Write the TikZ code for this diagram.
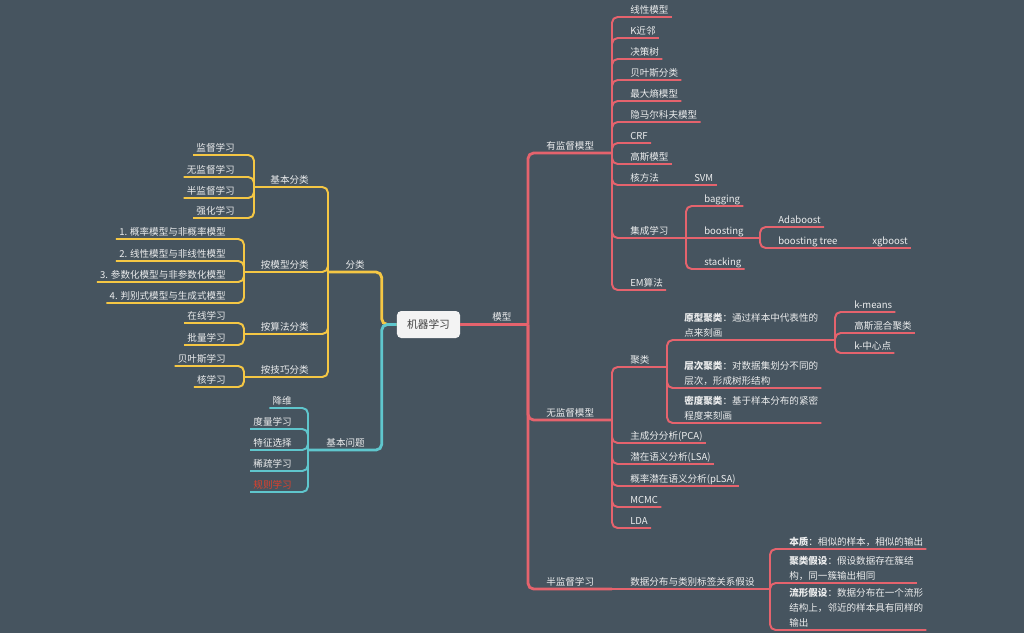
\documentclass[tikz,border=0pt]{standalone}
\usepackage{fontspec}
\setmainfont{Noto Sans CJK SC}
\usepackage{tikz}
\usetikzlibrary{calc}

\definecolor{bg}{RGB}{70,84,95}
\definecolor{branchred}{RGB}{229,99,109}
\definecolor{branchyellow}{RGB}{245,199,68}
\definecolor{branchteal}{RGB}{95,198,205}
\definecolor{textgray}{RGB}{236,237,238}
\definecolor{rootfill}{RGB}{243,243,243}
\definecolor{warnred}{RGB}{226,64,43}

\tikzset{
  topic/.style={font=\fontsize{6.8}{10.6}\selectfont, text=textgray, inner xsep=0.075cm, inner ysep=1.6pt, align=left},
  rtopic/.style={topic, anchor=south west},
  ltopic/.style={topic, anchor=south east},
  leaf/.style={text depth=1pt},
  root/.style={fill=rootfill, rounded corners=3pt, text=black!75, font=\fontsize{7.6}{9}\selectfont, minimum width=1.575cm, minimum height=0.675cm},
  mainbranch/.style={line width=2pt, rounded corners=4pt},
  branch/.style={line width=1.4pt, rounded corners=4pt},
}

\begin{document}
\begin{tikzpicture}[x=0.025cm, y=-0.025cm]
\fill[bg] (0,0) rectangle (1024,633);
\useasboundingbox (0,0) rectangle (1024,633);

\node[root] (root) at (428.5,324.5) {机器学习};

% model side
\coordinate (model-j) at (528,324.5);
\node[rtopic, leaf] (model) at (489,324.5) {模型};
\draw[branchred, mainbranch] (root.east) -- (model-j);

\foreach \n/\y/\txt in {sup/153/有监督模型, unsup/420/无监督模型, semi/589/半监督学习} {
  \coordinate (\n-j) at (612,\y);
  \node[rtopic, leaf] (\n) at (543,\y) {\txt};
  \draw[branchred, mainbranch] (model-j) |- (\n-j);
}

% supervised
\foreach \y/\txt [count=\i] in {17/线性模型, 38/K近邻, 59/决策树, 80/贝叶斯分类, 101/最大熵模型, 122/隐马尔科夫模型, 143/CRF, 164/高斯模型, 290/EM算法} {
  \node[rtopic, leaf] (sup\i) at (627,\y) {\txt};
  \draw[branchred, branch] (sup-j) |- (sup\i.south east);
}
\coordinate (kernel-j) at (682,185);
\node[rtopic, leaf] (kernel) at (627,185) {核方法};
\node[rtopic, leaf] (svm) at (691,185) {SVM};
\draw[branchred, branch] (sup-j) |- (kernel-j);
\draw[branchred, branch] (kernel-j) -- (svm.south east);

\coordinate (ens-j) at (686,238);
\node[rtopic, leaf] (ens) at (627,238) {集成学习};
\draw[branchred, branch] (sup-j) |- (ens-j);
\node[rtopic, leaf] (bag) at (701,206) {bagging};
\node[rtopic, leaf] (stack) at (701,269) {stacking};
\coordinate (boost-j) at (760,238);
\node[rtopic, leaf] (boost) at (701,238) {boosting};
\draw[branchred, branch] (ens-j) |- (bag.south east);
\draw[branchred, branch] (ens-j) |- (stack.south east);
\draw[branchred, branch] (ens-j) -- (boost-j);
\node[rtopic, leaf] (ada) at (775,227) {Adaboost};
\coordinate (btree-j) at (840,248);
\node[rtopic, leaf] (btree) at (775,248) {boosting tree};
\node[rtopic, leaf] (xgb) at (869,248) {xgboost};
\draw[branchred, branch] (boost-j) |- (ada.south east);
\draw[branchred, branch] (boost-j) |- (btree-j);
\draw[branchred, line width=1pt] (btree-j) -- (xgb.south east);

% unsupervised
\coordinate (clu-j) at (667,367);
\node[rtopic, leaf] (clu) at (627,367) {聚类};
\draw[branchred, branch] (unsup-j) |- (clu-j);
\coordinate (proto-j) at (835,340);
\node[rtopic] (proto) at (681,340) {\textbf{原型聚类}：通过样本中代表性的\\点来刻画};
\node[rtopic] (hier) at (681,388) {\textbf{层次聚类}：对数据集划分不同的\\层次，形成树形结构};
\node[rtopic] (dens) at (681,423) {\textbf{密度聚类}：基于样本分布的紧密\\程度来刻画};
\draw[branchred, branch] (clu-j) |- (proto-j);
\draw[branchred, branch] (clu-j) |- (hier.south east);
\draw[branchred, branch] (clu-j) |- (dens.south east);
\foreach \y/\txt [count=\i] in {312/k-means, 333/高斯混合聚类, 353/k-中心点} {
  \node[rtopic, leaf] (proto\i) at (851,\y) {\txt};
  \draw[branchred, branch] (proto-j) |- (proto\i.south east);
}
\foreach \y/\txt [count=\i] in {443/主成分分析(PCA), 464/潜在语义分析(LSA), 486/概率潜在语义分析(pLSA), 507/MCMC, 528/LDA} {
  \node[rtopic, leaf] (unsup\i) at (627,\y) {\txt};
  \draw[branchred, branch] (unsup-j) |- (unsup\i.south east);
}

% semi-supervised
\coordinate (assume-j) at (770,589);
\node[rtopic, leaf] (assume) at (627,589) {数据分布与类别标签关系假设};
\draw[branchred, branch] (semi-j) -- (assume-j);
\node[rtopic] (essence) at (786,549) {\textbf{本质}：相似的样本，相似的输出};
\node[rtopic] (cluster) at (786,583) {\textbf{聚类假设}：假设数据存在簇结\\构，同一簇输出相同};
\node[rtopic] (manifold) at (786,630) {\textbf{流形假设}：数据分布在一个流形\\结构上，邻近的样本具有同样的\\输出};
\foreach \n in {essence,cluster,manifold}
  \draw[branchred, branch] (assume-j) |- (\n.south east);

% classification side
\coordinate (cls-j) at (328,272);
\node[ltopic, leaf] (cls) at (368,272) {分类};
\draw[branchyellow, mainbranch] (root.west) -- ++(-15,0) |- (cls-j);

\foreach \n/\x/\y/\txt in {basic/254/187/基本分类, bymodel/244/272/按模型分类, byalg/244/334/按算法分类, bytech/244/377/按技巧分类} {
  \coordinate (\n-j) at (\x,\y);
  \node[ltopic, leaf] (\n) at (312,\y) {\txt};
  \draw[branchyellow, branch] (cls-j) |- (\n-j);
}
\foreach \y/\txt [count=\i] in {155/监督学习, 177/无监督学习, 198/半监督学习, 218/强化学习} {
  \node[ltopic, leaf] (basic\i) at (238,\y) {\txt};
  \draw[branchyellow, branch] (basic-j) |- (basic\i.south west);
}
\foreach \y/\txt [count=\i] in {239/1. 概率模型与非概率模型, 261/2. 线性模型与非线性模型, 282/3. 参数化模型与非参数化模型, 303/4. 判别式模型与生成式模型} {
  \node[ltopic, leaf] (bymodel\i) at (229,\y) {\txt};
  \draw[branchyellow, branch] (bymodel-j) |- (bymodel\i.south west);
}
\foreach \y/\txt [count=\i] in {323/在线学习, 345/批量学习} {
  \node[ltopic, leaf] (byalg\i) at (229,\y) {\txt};
  \draw[branchyellow, branch] (byalg-j) |- (byalg\i.south west);
}
\foreach \y/\txt [count=\i] in {366/贝叶斯学习, 387/核学习} {
  \node[ltopic, leaf] (bytech\i) at (229,\y) {\txt};
  \draw[branchyellow, branch] (bytech-j) |- (bytech\i.south west);
}

% basic problems
\coordinate (prob-j) at (308,450);
\node[ltopic, leaf] (prob) at (368,450) {基本问题};
\draw[branchteal, mainbranch] (root.west) -- ++(-15,0) |- (prob-j);
\foreach \y/\txt [count=\i] in {408/降维, 429/度量学习, 450/特征选择, 471/稀疏学习} {
  \node[ltopic, leaf] (prob\i) at (295,\y) {\txt};
  \draw[branchteal, branch] (prob-j) |- (prob\i.south west);
}
\node[ltopic, leaf, text=warnred] (prob5) at (295,492) {规则学习};
\draw[branchteal, branch] (prob-j) |- (prob5.south west);
\end{tikzpicture}
\end{document}
